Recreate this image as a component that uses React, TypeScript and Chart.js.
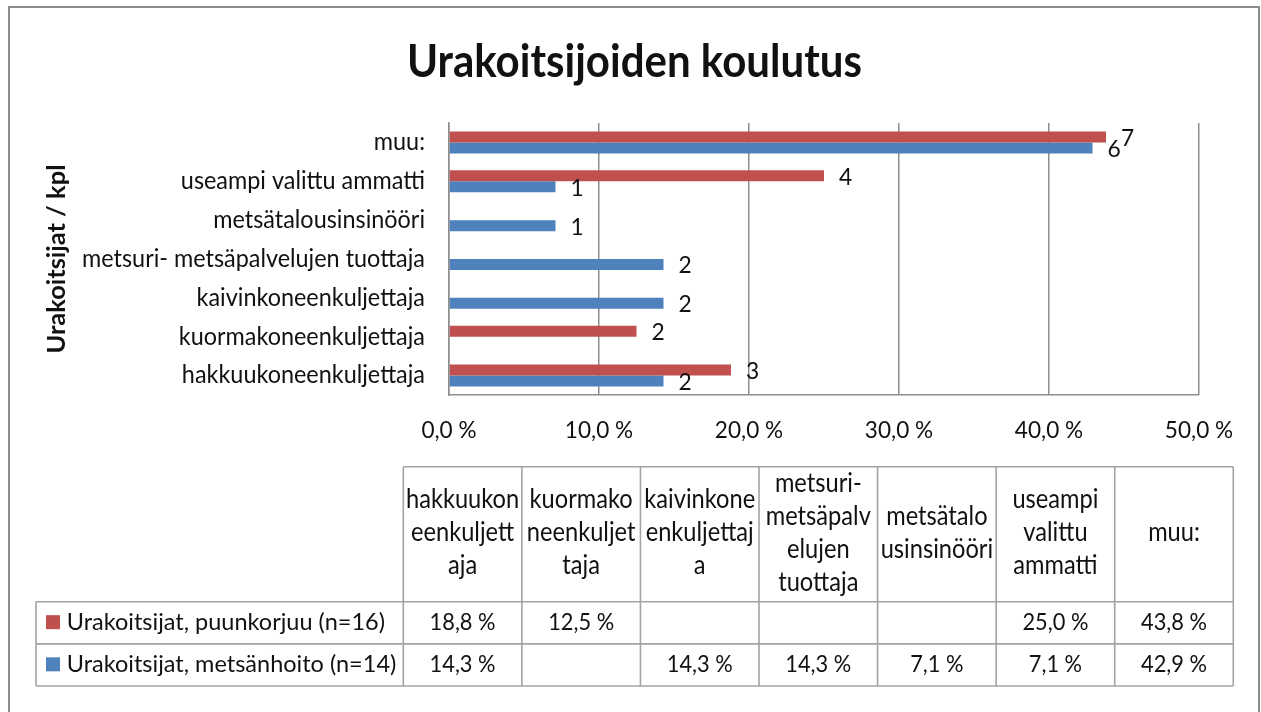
import { useEffect, useRef } from "react";
import { Chart, registerables } from "chart.js";

Chart.register(...registerables);

// ---------- data ----------
const TITLE = "Urakoitsijoiden koulutus";
const Y_TITLE = "Urakoitsijat / kpl";

const categories = [
  "hakkuukoneenkuljettaja",
  "kuormakoneenkuljettaja",
  "kaivinkoneenkuljettaja",
  "metsuri- metsäpalvelujen tuottaja",
  "metsätalousinsinööri",
  "useampi valittu ammatti",
  "muu:",
];

// wrapped column headings as shown in the data table
const headerLines = [
  ["hakkuukon", "eenkuljett", "aja"],
  ["kuormako", "neenkuljet", "taja"],
  ["kaivinkone", "enkuljettaj", "a"],
  ["metsuri-", "metsäpalv", "elujen", "tuottaja"],
  ["metsätalo", "usinsinööri"],
  ["useampi", "valittu", "ammatti"],
  ["muu:"],
];

const seriesNames = [
  "Urakoitsijat, puunkorjuu (n=16)",
  "Urakoitsijat, metsänhoito (n=14)",
];
const puunkorjuuPct: (number | null)[] = [18.8, 12.5, null, null, null, 25.0, 43.8];
const metsanhoitoPct: (number | null)[] = [14.3, null, 14.3, 14.3, 7.1, 7.1, 42.9];
const puunkorjuuCount: (number | null)[] = [3, 2, null, null, null, 4, 7];
const metsanhoitoCount: (number | null)[] = [2, null, 2, 2, 1, 1, 6];

const xMin = 0;
const xMax = 50;
const xStep = 10;

const seriesColors = ["#C0504D", "#4F81BD"];

// ---------- helpers ----------
const FAMILY = 'Lato, "Open Sans", "DejaVu Sans", sans-serif';
const TEXT = "#111111";
const LINE = "#8e8e8e";
const TABLE_LINE = "#a3a3a3";

const rev = <T,>(a: T[]) => a.slice().reverse();
const fmtPct = (v: number) => v.toFixed(1).replace(".", ",") + " %";

type Sty = { font: string; sy: number };

function calib(
  ctx: CanvasRenderingContext2D,
  weight: string,
  sample: string,
  targetW: number,
  glyph: string,
  targetH: number
): Sty {
  ctx.save();
  ctx.font = `${weight} 100px ${FAMILY}`;
  const w = ctx.measureText(sample).width || 100;
  const size = (100 * targetW) / w;
  const font = `${weight} ${size.toFixed(2)}px ${FAMILY}`;
  ctx.font = font;
  const h = ctx.measureText(glyph).actualBoundingBoxAscent || size * 0.7;
  ctx.restore();
  return { font, sy: targetH / h };
}

function text(
  ctx: CanvasRenderingContext2D,
  s: string,
  x: number,
  y: number,
  st: Sty,
  align: CanvasTextAlign,
  rotate = 0
) {
  ctx.save();
  ctx.translate(x, y);
  if (rotate) ctx.rotate(rotate);
  ctx.scale(1, st.sy);
  ctx.font = st.font;
  ctx.textAlign = align;
  ctx.textBaseline = "alphabetic";
  ctx.fillStyle = TEXT;
  ctx.fillText(s, 0, 0);
  ctx.restore();
}

function line(ctx: CanvasRenderingContext2D, x1: number, y1: number, x2: number, y2: number) {
  ctx.beginPath();
  ctx.moveTo(x1, y1);
  ctx.lineTo(x2, y2);
  ctx.stroke();
}

// table layout
const TBL = {
  legLeft: 36,
  left: 403.3,
  colW: 118.57,
  top: 466.7,
  headBottom: 601.7,
  rowH: 42.15,
  headLineH: 33,
};

const decorPlugin = {
  id: "decor",
  afterDraw(chart: any) {
    const ctx: CanvasRenderingContext2D = chart.ctx;
    const S = {
      title: calib(ctx, "bold", TITLE, 455, "U", 33.5),
      ytitle: calib(ctx, "bold", Y_TITLE, 189, "k", 18),
      cat: calib(ctx, "normal", categories[3], 343, "x", 12.8),
      tick: calib(ctx, "normal", "10,0 %", 68.3, "1", 17.5),
      dl: calib(ctx, "normal", "10,0 %", 69, "1", 16.8),
      leg: calib(ctx, "normal", seriesNames[0], 318.3, "U", 16.7),
      head: calib(ctx, "normal", headerLines[0][0], 113.3, "x", 13.2),
      val: calib(ctx, "normal", "18,8 %", 66, "1", 16.3),
    };

    // outer chart border
    ctx.save();
    ctx.strokeStyle = "#8c8c8c";
    ctx.lineWidth = 2;
    ctx.strokeRect(9, 7, 1250, 800);
    ctx.restore();

    // title
    text(ctx, TITLE, 634.5, 76.7, S.title, "center");
    // y axis title
    text(ctx, Y_TITLE, 64.5, 259, S.ytitle, "center", -Math.PI / 2);

    const xs = chart.scales.x;
    const ys = chart.scales.y;

    // category labels
    const labels: string[] = chart.data.labels;
    labels.forEach((lab, i) => {
      const yc = ys.getPixelForTick(i);
      text(ctx, lab, 425, yc + 7.8, S.cat, "right");
    });

    // x tick labels
    xs.ticks.forEach((t: any, i: number) => {
      const px = xs.getPixelForTick(i);
      text(ctx, fmtPct(t.value), px, 438.3, S.tick, "center");
    });

    // data labels (counts)
    const counts = [rev(puunkorjuuCount), rev(metsanhoitoCount)];
    chart.data.datasets.forEach((_ds: any, di: number) => {
      const meta = chart.getDatasetMeta(di);
      meta.data.forEach((bar: any, i: number) => {
        const c = counts[di][i];
        if (c == null) return;
        text(ctx, String(c), bar.x + 15, bar.y + 9, S.dl, "left");
      });
    });

    // ---------- data table ----------
    const nCols = categories.length;
    const right = TBL.left + nCols * TBL.colW;
    const rowsBottom = TBL.headBottom + 2 * TBL.rowH;
    ctx.save();
    ctx.strokeStyle = TABLE_LINE;
    ctx.lineWidth = 1.6;
    line(ctx, TBL.left, TBL.top, right, TBL.top);
    for (let r = 0; r <= 2; r++) {
      const y = TBL.headBottom + r * TBL.rowH;
      line(ctx, TBL.legLeft, y, right, y);
    }
    line(ctx, TBL.legLeft, TBL.headBottom, TBL.legLeft, rowsBottom);
    for (let j = 0; j <= nCols; j++) {
      const x = TBL.left + j * TBL.colW;
      line(ctx, x, TBL.top, x, rowsBottom);
    }
    ctx.restore();

    // headings (vertically centred in the heading cell)
    const headCenter = (TBL.top + TBL.headBottom) / 2 + 0.5;
    headerLines.forEach((lines, j) => {
      const cx = TBL.left + (j + 0.5) * TBL.colW;
      lines.forEach((ln, k) => {
        const yc = headCenter + (k - (lines.length - 1) / 2) * TBL.headLineH;
        text(ctx, ln, cx, yc + 6.6, S.head, "center");
      });
    });

    // rows
    const seriesPct = [puunkorjuuPct, metsanhoitoPct];
    seriesNames.forEach((name, r) => {
      const rc = TBL.headBottom + (r + 0.5) * TBL.rowH;
      ctx.save();
      ctx.fillStyle = seriesColors[r];
      ctx.fillRect(46, rc - 7.6, 14, 14);
      ctx.restore();
      text(ctx, name, 66.7, rc + 7.3, S.leg, "left");
      seriesPct[r].forEach((v, j) => {
        if (v == null) return;
        const cx = TBL.left + (j + 0.5) * TBL.colW;
        text(ctx, fmtPct(v), cx, rc + 7.3, S.val, "center");
      });
    });
  },
};

export default function App() {
  const ref = useRef<HTMLCanvasElement | null>(null);

  useEffect(() => {
    if (!ref.current) return;
    const common = {
      borderWidth: 0,
      categoryPercentage: 0.566,
      barPercentage: 1.0,
    };
    const chart = new Chart(ref.current, {
      type: "bar",
      data: {
        labels: rev(categories),
        datasets: [
          { label: seriesNames[0], data: rev(puunkorjuuPct), backgroundColor: seriesColors[0], ...common },
          { label: seriesNames[1], data: rev(metsanhoitoPct), backgroundColor: seriesColors[1], ...common },
        ],
      },
      options: {
        indexAxis: "y",
        animation: false,
        responsive: false,
        events: [],
        layout: { padding: { left: 449, top: 123, right: 62, bottom: 317 } },
        plugins: {
          legend: { display: false },
          title: { display: false },
          tooltip: { enabled: false },
        },
        scales: {
          x: {
            type: "linear",
            min: xMin,
            max: xMax,
            ticks: { stepSize: xStep, display: false },
            grid: { color: LINE, lineWidth: 1.5, drawTicks: false },
            border: { display: true, color: LINE, width: 1.5 },
            afterFit: (s: any) => {
              s.height = 0;
            },
          },
          y: {
            type: "category",
            ticks: { display: false },
            grid: { display: false, drawTicks: false },
            border: { display: true, color: LINE, width: 1.5 },
            afterFit: (s: any) => {
              s.width = 0;
            },
          },
        },
      } as any,
      plugins: [decorPlugin],
    });
    return () => chart.destroy();
  }, []);

  return (
    <div
      style={{
        position: "fixed",
        left: 0,
        top: 0,
        width: 1261,
        height: 712,
        background: "#ffffff",
      }}
    >
      <canvas
        ref={ref}
        width={1261}
        height={712}
        style={{ display: "block", width: 1261, height: 712 }}
      />
    </div>
  );
}
